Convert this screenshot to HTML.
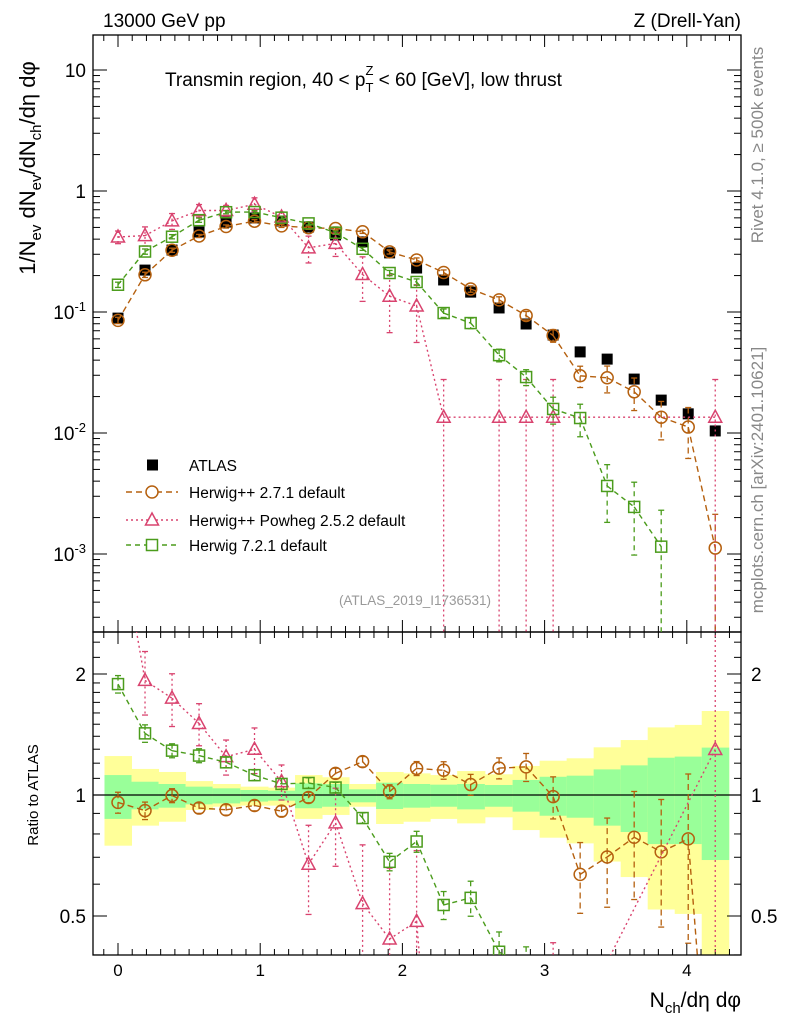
<!DOCTYPE html>
<html><head><meta charset="utf-8">
<style>
html,body{margin:0;padding:0;background:#fff;overflow:hidden;width:786px;height:1024px;}
svg{display:block;font-family:"Liberation Sans",sans-serif;}
</style></head>
<body>
<svg id="chart" width="786" height="1024" viewBox="0 0 786 1024"></svg>
<script>
const xs = [0,0.19,0.38,0.57,0.76,0.96,1.15,1.34,1.53,1.72,1.91,2.1,2.29,2.48,2.68,2.87,3.06,3.25,3.44,3.63,3.82,4.01,4.2];
const atlas = [0.089,0.222,0.325,0.458,0.554,0.598,0.565,0.504,0.433,0.38,0.308,0.231,0.184,0.146,0.108,0.0796,0.0645,0.0468,0.0408,0.0279,0.0187,0.0144,0.0104];
const herwig271 = [0.0853,0.203,0.324,0.425,0.509,0.563,0.515,0.497,0.49,0.46,0.314,0.269,0.212,0.155,0.126,0.0935,0.0639,0.0297,0.0286,0.0219,0.0135,0.0112,0.00112];
const herwig271Err = [0.06,0.05,0.04,0.03,0.03,0.03,0.03,0.03,0.03,0.03,0.04,0.04,0.05,0.06,0.06,0.08,0.12,0.2,0.25,0.3,0.35,0.45,0.9];
const powheg = [0.417,0.428,0.566,0.69,0.69,0.777,0.61,0.339,0.369,0.204,0.135,0.112,0.0135,null,0.0135,0.0135,0.0135,null,null,null,null,null,0.0135];
const powhegErr = [0.12,0.18,0.15,0.12,0.1,0.13,0.1,0.25,0.22,0.4,0.5,0.5,1.05,null,1.05,1.05,1.05,null,null,null,null,null,1.05];
const herwig721 = [0.168,0.316,0.419,0.574,0.668,0.67,0.602,0.54,0.452,0.333,0.21,0.177,0.098,0.081,0.044,0.029,0.0158,0.0133,0.00365,0.00245,0.00115,null,null];
const herwig721Err = [0.05,0.05,0.04,0.04,0.03,0.03,0.03,0.03,0.03,0.03,0.05,0.06,0.08,0.1,0.12,0.15,0.25,0.3,0.5,0.6,1.0,null,null];
const binEdges = [-0.095,0.095,0.285,0.475,0.665,0.86,1.055,1.245,1.435,1.625,1.815,2.005,2.195,2.385,2.58,2.775,2.965,3.155,3.345,3.535,3.725,3.915,4.105,4.295];
const yellowUp = [1.25,1.161,1.141,1.083,1.065,1.049,1.043,1.121,1.107,1.065,1.141,1.132,1.121,1.147,1.126,1.181,1.217,1.234,1.314,1.37,1.473,1.494,1.618];
const yellowDn = [0.748,0.839,0.858,0.918,0.935,0.941,0.941,0.872,0.892,0.935,0.847,0.858,0.872,0.85,0.88,0.818,0.783,0.758,0.683,0.625,0.519,0.506,0.40];
const greenUp = [1.121,1.079,1.065,1.049,1.039,1.029,1.025,1.069,1.065,1.033,1.073,1.065,1.061,1.065,1.059,1.09,1.11,1.117,1.158,1.185,1.238,1.246,1.312];
const greenDn = [0.872,0.921,0.93,0.948,0.953,0.963,0.968,0.927,0.935,0.959,0.923,0.93,0.935,0.921,0.935,0.909,0.888,0.878,0.839,0.809,0.755,0.755,0.689];
const xTicks = [0,1,2,3,4];
const mainTicks = [10,1,0.1,0.01,0.001];
const mainTickLabels = ["10","1","10^-1","10^-2","10^-3"];
const ratioTicks = [2,1,0.5];
const ratioTickLabels = ["2","1","0.5"];

const NS="http://www.w3.org/2000/svg";
const svg=document.getElementById('chart');
const L=93,R=741,MT=35,MB=632,RT=632,RB=955;
const X=v=>118+v*142.2;
const Y=v=>191-121*Math.log10(v);
const RY=r=>795-121*Math.log2(r);
function el(tag,attrs,parent){const e=document.createElementNS(NS,tag);for(const k in attrs)e.setAttribute(k,attrs[k]);(parent||svg).appendChild(e);return e;}
function txt(s,attrs,parent){const e=el('text',attrs,parent);e.textContent=s;return e;}

const defs=el('defs',{});
const c1=el('clipPath',{id:'cm'},defs);el('rect',{x:L,y:MT,width:R-L,height:MB-MT},c1);
const c2=el('clipPath',{id:'cr'},defs);el('rect',{x:L,y:RT,width:R-L,height:RB-RT},c2);

const gBands=el('g',{'clip-path':'url(#cr)'});


for(let i=0;i<yellowUp.length;i++){
  const x0=X(binEdges[i]),x1=X(binEdges[i+1]);
  const yTop=Math.max(RY(yellowUp[i]),RT),yBot=Math.min(RY(yellowDn[i]),RB);
  const y=el('rect',{x:x0,y:yTop,width:x1-x0+0.5,height:yBot-yTop,fill:'#ffff99'},gBands);
  
  
  const g=el('rect',{x:x0,y:RY(greenUp[i]),width:x1-x0+0.5,height:RY(greenDn[i])-RY(greenUp[i]),fill:'#99ff99'},gBands);
  
  
}
el('line',{x1:L,x2:R,y1:RY(1),y2:RY(1),stroke:'#000','stroke-width':1.3});

const f1=el('rect',{x:L,y:MT,width:R-L,height:MB-MT,fill:'none',stroke:'#000','stroke-width':1.3});

const f2=el('rect',{x:L,y:RT,width:R-L,height:RB-RT,fill:'none',stroke:'#000','stroke-width':1.3});


for(let v=-0.1;v<=4.35;v+=0.1){
  const vv=Math.round(v*10)/10;const major=Math.abs(vv-Math.round(vv))<1e-6;const x=X(vv);
  const len=major?12:6;
  el('line',{x1:x,x2:x,y1:MB,y2:MB-len,stroke:'#000'});
  el('line',{x1:x,x2:x,y1:MT,y2:MT+len,stroke:'#000'});
  el('line',{x1:x,x2:x,y1:RB,y2:RB-len,stroke:'#000'});
  el('line',{x1:x,x2:x,y1:RT,y2:RT+len,stroke:'#000'});
}
xTicks.forEach(v=>{const t=txt(String(v),{x:X(v),y:976,'font-size':17,'text-anchor':'middle'});});

for(let d=-4;d<=1;d++){for(let m=1;m<10;m++){const v=m*Math.pow(10,d);const y=Y(v);if(y<MT||y>MB)continue;const len=m===1?14:7;
  el('line',{x1:L,x2:L+len,y1:y,y2:y,stroke:'#000'});el('line',{x1:R,x2:R-len,y1:y,y2:y,stroke:'#000'});}}
mainTicks.forEach((v,i)=>{const lab=mainTickLabels[i];const y=Y(v)+7;let t;
  if(lab.indexOf('^')>=0){const p=lab.split('^');t=txt('',{x:86,y:y,'font-size':19,'text-anchor':'end'});
    const a=el('tspan',{},t);a.textContent=p[0];const b=el('tspan',{dy:-8,'font-size':13},t);b.textContent=p[1];}
  else t=txt(lab,{x:86,y:y,'font-size':19,'text-anchor':'end'});
  });

[0.4,0.5,0.6,0.7,0.8,0.9,1,1.1,1.2,1.3,1.4,1.5,1.6,1.7,1.8,1.9,2,2.2,2.4].forEach(v=>{const y=RY(v);const major=(v===0.5||v===1||v===2);const len=major?14:7;
  el('line',{x1:L,x2:L+len,y1:y,y2:y,stroke:'#000'});el('line',{x1:R,x2:R-len,y1:y,y2:y,stroke:'#000'});});
ratioTicks.forEach((v,i)=>{const y=RY(v)+7;
  const a=txt(ratioTickLabels[i],{x:86,y:y,'font-size':19,'text-anchor':'end'});
  const b=txt(ratioTickLabels[i],{x:751,y:y,'font-size':19}); });

// clip a segment to y range
function clipSeg(x1,y1,x2,y2,top,bot){
  if((y1<top&&y2<top)||(y1>bot&&y2>bot))return null;
  function at(y){return x1+(x2-x1)*(y-y1)/(y2-y1);}
  let a=[x1,y1],b=[x2,y2];
  if(y1<top)a=[at(top),top]; if(y1>bot)a=[at(bot),bot];
  if(y2<top)b=[at(top),top]; if(y2>bot)b=[at(bot),bot];
  return [a,b];
}
function series(vals,errs,color,dash,marker,clip,ymap,ratio,name,top,bot){
  const g=el('g',{'clip-path':'url(#'+clip+')'});
  
  
  const pts=[];
  vals.forEach((v,i)=>{if(v==null)return;const val=ratio?v/atlas[i]:v;pts.push([X(xs[i]),ymap(val),val,errs?errs[i]:null]);});
  pts.forEach(p=>{if(p[3]==null)return;const hi=p[2]*(1+p[3]);const lo=p[2]*(1-p[3]);
    let yh=ymap(hi);let yl=lo>0?ymap(lo):bot+2;
    if(yh>bot+2||yl<top-2)return;
    const capH=yh>=top, capL=lo>0&&yl<=bot;
    yh=Math.max(yh,top-2);yl=Math.min(yl,bot+2);
    el('line',{x1:p[0],x2:p[0],y1:yh,y2:yl,stroke:color,'stroke-width':1.3,'stroke-dasharray':dash},g);
    if(capH)el('line',{x1:p[0]-3,x2:p[0]+3,y1:yh,y2:yh,stroke:color,'stroke-width':1.3},g);
    if(capL)el('line',{x1:p[0]-3,x2:p[0]+3,y1:yl,y2:yl,stroke:color,'stroke-width':1.3},g);});
  let d='';
  for(let i=0;i+1<pts.length;i++){const s=clipSeg(pts[i][0],pts[i][1],pts[i+1][0],pts[i+1][1],top-1,bot+1);
    if(s)d+=`M${s[0][0].toFixed(1)},${s[0][1].toFixed(1)}L${s[1][0].toFixed(1)},${s[1][1].toFixed(1)}`;}
  const pl=el('path',{d:d,fill:'none',stroke:color,'stroke-width':1.4,'stroke-dasharray':dash},g);
  
  
  pts.forEach(p=>{if(p[1]>bot+8||p[1]<top-8)return;let m;
    if(marker==='circle')m=el('circle',{cx:p[0],cy:p[1],r:6,fill:'none',stroke:color,'stroke-width':1.5},g);
    else if(marker==='tri')m=el('polygon',{points:`${p[0]},${p[1]-7} ${p[0]-6.5},${p[1]+5} ${p[0]+6.5},${p[1]+5}`,fill:'none',stroke:color,'stroke-width':1.5},g);
    else m=el('rect',{x:p[0]-5.5,y:p[1]-5.5,width:11,height:11,fill:'none',stroke:color,'stroke-width':1.5},g);
    
    });
}
const OR='#b5600f',PK='#d9436f',GR='#4b9c1c';
const ga=el('g',{'clip-path':'url(#cm)'});

atlas.forEach((v,i)=>{const r=el('rect',{x:X(xs[i])-5.5,y:Y(v)-5.5,width:11,height:11,fill:'#000'},ga);
  });
series(herwig271,herwig271Err,OR,'6,4','circle','cm',Y,false,'herwig271-main',MT,MB);
series(powheg,powhegErr,PK,'2,3','tri','cm',Y,false,'powheg-main',MT,MB);
series(herwig721,herwig721Err,GR,'5,4','square','cm',Y,false,'herwig721-main',MT,MB);
series(herwig271,herwig271Err,OR,'6,4','circle','cr',RY,true,'herwig271-ratio',RT,RB);
series(powheg,powhegErr,PK,'2,3','tri','cr',RY,true,'powheg-ratio',RT,RB);
series(herwig721,herwig721Err,GR,'5,4','square','cr',RY,true,'herwig721-ratio',RT,RB);

const lg=el('g',{});
const rows=[['ATLAS',465],['Herwig++ 2.7.1 default',492],['Herwig++ Powheg 2.5.2 default',520],['Herwig 7.2.1 default',545]];
rows.forEach((r,i)=>{const e=el('g',{},lg);
  const y=r[1];
  if(i===0)el('rect',{x:147,y:y-5.5,width:11,height:11,fill:'#000'},e);
  else{const c=[OR,PK,GR][i-1],d=['6,4','2,3','5,4'][i-1];
    el('line',{x1:126,x2:178,y1:y,y2:y,stroke:c,'stroke-width':1.4,'stroke-dasharray':d},e);
    if(i===1)el('circle',{cx:152,cy:y,r:6,fill:'#fff',stroke:c,'stroke-width':1.5},e);
    if(i===2)el('polygon',{points:`152,${y-7} 145.5,${y+5} 158.5,${y+5}`,fill:'#fff',stroke:c,'stroke-width':1.5},e);
    if(i===3)el('rect',{x:146.5,y:y-5.5,width:11,height:11,fill:'#fff',stroke:c,'stroke-width':1.5},e);}
  txt(r[0],{x:189,y:y+6,'font-size':15.5},e);});

function T(s,a,name){const t=txt(s,a);return t;}
T('13000 GeV pp',{x:103,y:27,'font-size':19},'energy-label');
T('Z (Drell-Yan)',{x:741,y:27,'font-size':19,'text-anchor':'end'},'process-label');
const ti=T('',{x:165,y:86,'font-size':19},'plot-title');
ti.innerHTML='Transmin region, 40 &lt; p<tspan dy="6" font-size="13">T</tspan><tspan dy="-17" dx="-8" font-size="13">Z</tspan><tspan dy="11"> &lt; 60 [GeV], low thrust</tspan>';
T('(ATLAS_2019_I1736531)',{x:415,y:605,'font-size':13.5,fill:'#999','text-anchor':'middle'},'analysis-id');
T('Rivet 4.1.0, \u2265 500k events',{x:0,y:0,'font-size':17,fill:'#888','text-anchor':'middle',transform:'translate(763,145) rotate(-90)'},'rivet-label');
T('mcplots.cern.ch [arXiv:2401.10621]',{x:0,y:0,'font-size':17,fill:'#888','text-anchor':'middle',transform:'translate(763,480) rotate(-90)'},'mcplots-label');
const yl=T('',{x:0,y:0,'font-size':22,'text-anchor':'middle',transform:'translate(35,168) rotate(-90)'},'y-axis-title');
yl.innerHTML='1/N<tspan dy="6" font-size="15">ev</tspan><tspan dy="-6"> dN</tspan><tspan dy="6" font-size="15">ev</tspan><tspan dy="-6">/dN</tspan><tspan dy="6" font-size="15">ch</tspan><tspan dy="-6">/d\u03b7 d\u03c6</tspan>';
T('Ratio to ATLAS',{x:0,y:0,'font-size':15,'text-anchor':'middle',transform:'translate(38,795) rotate(-90)'},'ratio-axis-title');
const xl=T('',{x:741,y:1007,'font-size':21,'text-anchor':'end'},'x-axis-title');
xl.innerHTML='N<tspan dy="6" font-size="15">ch</tspan><tspan dy="-6">/d\u03b7 d\u03c6</tspan>';
</script>
</body></html>
